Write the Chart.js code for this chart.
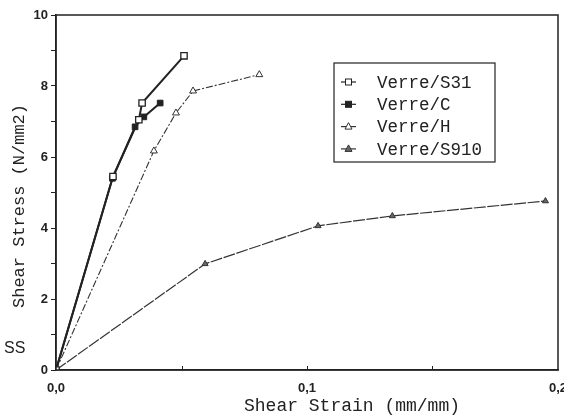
<!DOCTYPE html>
<html>
<head>
<meta charset="utf-8">
<script src="https://cdn.jsdelivr.net/npm/chart.js@4"></script>
<style>
  html, body { margin: 0; padding: 0; background: #fff; }
  #wrap { width: 564px; height: 417px; position: relative; }
</style>
</head>
<body>
<div id="wrap"><canvas id="shearChart" width="564" height="417"></canvas></div>
<script>
// Shear stress (N/mm2) vs shear strain (mm/mm)
const s31Strain = [0, 0.0227, 0.033, 0.0343, 0.051];
const s31Stress = [0, 5.45, 7.05, 7.52, 8.85];

const cStrain = [0, 0.0225, 0.0315, 0.035, 0.0415];
const cStress = [0, 5.4, 6.85, 7.13, 7.52];

const hStrain = [0, 0.039, 0.0478, 0.0546, 0.081];
const hStress = [0, 6.17, 7.24, 7.86, 8.32];

const s910Strain = [0, 0.0594, 0.1044, 0.134, 0.195];
const s910Stress = [0, 2.99, 4.06, 4.34, 4.76];

const seriesNames = ['Verre/S31', 'Verre/C', 'Verre/H', 'Verre/S910'];
const xTickLabels = { '0': '0,0', '0.1': '0,1', '0.2': '0,2' };
const yTickLabels = [0, 2, 4, 6, 8, 10];

const ink = '#222';
const mono = '"Liberation Mono", "DejaVu Sans Mono", monospace';

function toPoints(xs, ys) {
    return xs.map((x, i) => ({ x: x, y: ys[i] }));
}

// Frame, inward x ticks, loose texts and the boxed legend
const decorations = {
    id: 'decorations',
    afterDraw(chart) {
        const c = chart.ctx;
        const area = chart.chartArea;
        const xs = chart.scales.x;
        c.save();
        c.strokeStyle = ink;
        c.lineWidth = 1.5;
        c.strokeRect(area.left, area.top, area.right - area.left, area.bottom - area.top);

        // small tick marks pointing up into the plot
        c.lineWidth = 1;
        [0.05, 0.1, 0.15].forEach(v => {
            const px = Math.round(xs.getPixelForValue(v)) + 0.5;
            c.beginPath();
            c.moveTo(px, area.bottom);
            c.lineTo(px, area.bottom - 4);
            c.stroke();
        });

        c.fillStyle = ink;
        c.font = '18px ' + mono;
        c.textBaseline = 'middle';
        c.textAlign = 'center';
        c.fillText('Shear Strain (mm/mm)', 352, 406);

        c.save();
        c.translate(19, 206);
        c.rotate(-Math.PI / 2);
        c.font = '17px ' + mono;
        c.fillText('Shear Stress (N/mm2)', 0, 0);
        c.restore();

        c.font = '16px "Liberation Sans", sans-serif';
        c.textAlign = 'left';
        c.fillText('SS', 4, 349);

        // legend box
        const lx = 334, ly = 63, lw = 161, lh = 99;
        c.lineWidth = 1.2;
        c.strokeRect(lx, ly, lw, lh);
        c.font = '17.5px ' + mono;
        chart.data.datasets.forEach((ds, i) => {
            const y = ly + 19 + i * 22.3;
            c.strokeStyle = ds.borderColor;
            c.lineWidth = 1.2;
            c.setLineDash([]);
            c.beginPath();
            c.moveTo(lx + 7, y);
            c.lineTo(lx + 22, y);
            c.stroke();
            c.fillStyle = ds.pointBackgroundColor;
            c.strokeStyle = ds.borderColor;
            c.lineWidth = 1;
            const r = 3;
            if (ds.pointStyle === 'rect') {
                c.fillRect(lx + 11.5, y - r, 2 * r, 2 * r);
                c.strokeRect(lx + 11.5, y - r, 2 * r, 2 * r);
            } else {
                c.beginPath();
                c.moveTo(lx + 14.5, y - r - 1);
                c.lineTo(lx + 14.5 + r + 0.5, y + r - 0.5);
                c.lineTo(lx + 14.5 - r - 0.5, y + r - 0.5);
                c.closePath();
                c.fill();
                c.stroke();
            }
            c.fillStyle = ink;
            c.fillText(ds.label, lx + 43, y + 1);
        });
        c.restore();
    }
};

const chart = new Chart(document.getElementById('shearChart'), {
    type: 'line',
    data: {
        datasets: [
            {
                label: seriesNames[0],
                data: toPoints(s31Strain, s31Stress),
                borderColor: ink, borderWidth: 2,
                pointStyle: 'rect', pointRadius: 4.5,
                pointBackgroundColor: '#fff', pointBorderColor: ink, pointBorderWidth: 1.3
            },
            {
                label: seriesNames[1],
                data: toPoints(cStrain, cStress),
                borderColor: ink, borderWidth: 2,
                pointStyle: 'rect', pointRadius: 4,
                pointBackgroundColor: ink, pointBorderColor: ink, pointBorderWidth: 1
            },
            {
                label: seriesNames[2],
                data: toPoints(hStrain, hStress),
                borderColor: '#333', borderWidth: 1.1, borderDash: [7, 2, 2, 2],
                pointStyle: 'triangle', pointRadius: 4,
                pointBackgroundColor: '#fff', pointBorderColor: '#333', pointBorderWidth: 1
            },
            {
                label: seriesNames[3],
                data: toPoints(s910Strain, s910Stress),
                borderColor: '#333', borderWidth: 1.2, borderDash: [12, 1.5],
                pointStyle: 'triangle', pointRadius: 3.5,
                pointBackgroundColor: '#666', pointBorderColor: '#333', pointBorderWidth: 1
            }
        ]
    },
    options: {
        responsive: false,
        animation: false,
        devicePixelRatio: 1,
        layout: { autoPadding: false, padding: { top: 15, right: 6, left: 0, bottom: 0 } },
        plugins: { legend: { display: false }, tooltip: { enabled: false } },
        scales: {
            x: {
                type: 'linear', min: 0, max: 0.2,
                afterFit(scale) {
                    scale.height = 47;
                    scale.paddingLeft = 0;
                    scale.paddingRight = 0;
                },
                border: { display: true, color: ink, width: 1.5 },
                grid: { display: false },
                ticks: {
                    stepSize: 0.1, padding: 3, maxRotation: 0, autoSkip: false,
                    color: ink,
                    font: { family: '"Liberation Sans", sans-serif', size: 13, weight: 'bold' },
                    callback: v => xTickLabels[String(Math.round(v * 10) / 10)] || ''
                }
            },
            y: {
                type: 'linear', min: 0, max: 10,
                afterFit(scale) { scale.width = 56; },
                border: { display: true, color: ink, width: 1.5 },
                grid: { drawOnChartArea: false, drawTicks: true, tickLength: 5, color: ink },
                ticks: {
                    stepSize: 1, padding: 3, color: ink,
                    font: { family: '"Liberation Sans", sans-serif', size: 13, weight: 'bold' },
                    callback: v => yTickLabels.includes(v) ? String(v) : ''
                }
            }
        }
    },
    plugins: [decorations]
});
</script>
</body>
</html>
